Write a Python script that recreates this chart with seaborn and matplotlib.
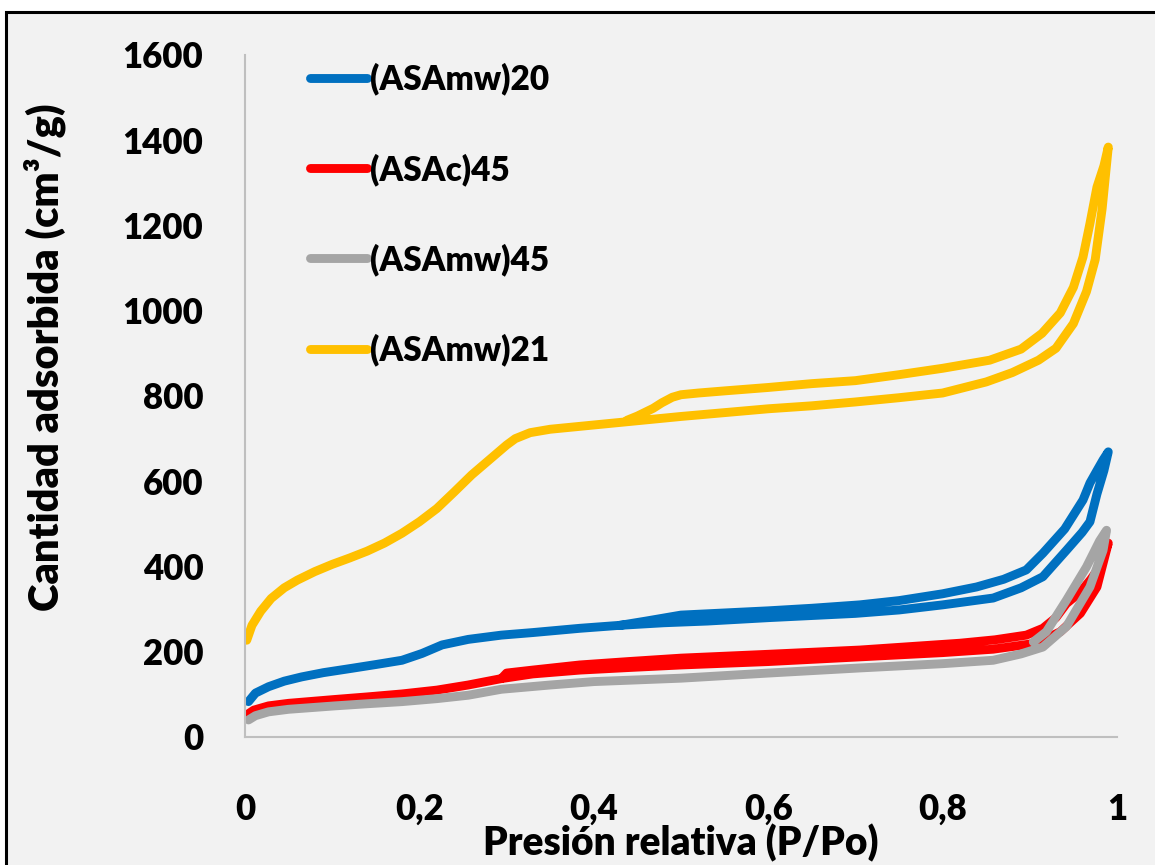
import numpy as np
import pandas as pd
import matplotlib
matplotlib.use("Agg")
import matplotlib.pyplot as plt
import seaborn as sns
from matplotlib.patches import Rectangle

# N2 adsorption-desorption isotherms (relative pressure vs adsorbed volume)
series_names = ["(ASAmw)20", "(ASAc)45", "(ASAmw)45", "(ASAmw)21"]
series_colors = ["#0070C0", "#FF0000", "#A5A5A5", "#FFC000"]

# (ASAmw)20
p_ads_20 = [0.004, 0.012, 0.027, 0.045, 0.065, 0.09, 0.122, 0.15, 0.18, 0.203, 0.226, 0.256,
            0.294, 0.33, 0.384, 0.43, 0.48, 0.53, 0.60, 0.65, 0.70, 0.75, 0.80, 0.858, 0.89,
            0.915, 0.942, 0.96, 0.969, 0.977, 0.985, 0.99]
v_ads_20 = [83, 103, 118, 131, 141, 151, 161, 170, 180, 196, 216, 229,
            239, 245, 255, 262, 268, 272, 280, 285, 290, 298, 310, 326, 350,
            376, 438, 480, 505, 570, 625, 669]
p_des_20 = [0.99, 0.984, 0.977, 0.969, 0.961, 0.94, 0.915, 0.896, 0.87, 0.839, 0.80, 0.75,
            0.705, 0.65, 0.60, 0.55, 0.50, 0.46, 0.43]
v_des_20 = [669, 650, 625, 596, 556, 488, 431, 392, 370, 352, 336, 320,
            310, 302, 296, 291, 286, 272, 262]

# (ASAc)45
p_ads_c45 = [0.002, 0.01, 0.027, 0.05, 0.103, 0.14, 0.18, 0.22, 0.256, 0.294, 0.33, 0.384,
             0.44, 0.50, 0.60, 0.705, 0.80, 0.858, 0.90, 0.915, 0.935, 0.958, 0.977, 0.99]
v_ads_c45 = [52, 63, 73, 79, 88, 94, 101, 110, 122, 137, 148, 157,
             163, 169, 177, 188, 198, 206, 218, 227, 247, 290, 352, 455]
p_des_c45 = [0.99, 0.98, 0.97, 0.958, 0.942, 0.93, 0.915, 0.896, 0.86, 0.82, 0.705, 0.60,
             0.50, 0.44, 0.384, 0.33, 0.30, 0.294]
v_des_c45 = [455, 399, 370, 340, 313, 280, 255, 239, 228, 220, 204, 194,
             185, 177, 169, 157, 150, 137]

# (ASAmw)45
p_ads_45 = [0.004, 0.012, 0.027, 0.05, 0.103, 0.14, 0.18, 0.22, 0.256, 0.294, 0.35, 0.40,
            0.50, 0.60, 0.705, 0.80, 0.858, 0.89, 0.915, 0.942, 0.969, 0.984, 0.988]
v_ads_45 = [40, 50, 59, 65, 73, 78, 83, 90, 98, 112, 122, 130,
            138, 150, 162, 172, 180, 195, 211, 259, 352, 438, 485]
p_des_45 = [0.988, 0.98, 0.965, 0.942, 0.919, 0.904]
v_des_45 = [485, 460, 399, 321, 247, 223]

# (ASAmw)21
p_ads_21 = [0.002, 0.008, 0.018, 0.03, 0.045, 0.06, 0.08, 0.10, 0.12, 0.14, 0.16, 0.18,
            0.20, 0.22, 0.24, 0.26, 0.28, 0.30, 0.31, 0.327, 0.35, 0.40, 0.45, 0.50, 0.55,
            0.60, 0.65, 0.70, 0.75, 0.80, 0.85, 0.88, 0.91, 0.93, 0.95, 0.965, 0.975, 0.983,
            0.99]
v_ads_21 = [227, 262, 295, 325, 350, 368, 388, 405, 420, 436, 455, 478,
            505, 536, 575, 615, 650, 685, 700, 714, 722, 732, 742, 752, 761,
            770, 777, 786, 796, 807, 833, 855, 884, 912, 970, 1045, 1120, 1240,
            1384]
p_des_21 = [0.99, 0.985, 0.977, 0.969, 0.961, 0.95, 0.935, 0.914, 0.89, 0.854, 0.80, 0.75,
            0.70, 0.65, 0.60, 0.55, 0.52, 0.50, 0.49, 0.478, 0.468, 0.45, 0.438]
v_des_21 = [1384, 1340, 1290, 1205, 1126, 1055, 995, 947, 910, 884, 865, 850,
            836, 829, 820, 812, 807, 803, 797, 784, 771, 753, 743]

x_ticks = [0, 0.2, 0.4, 0.6, 0.8, 1.0]
x_tick_labels = ["0", "0,2", "0,4", "0,6", "0,8", "1"]
y_ticks = [0, 200, 400, 600, 800, 1000, 1200, 1400, 1600]
y_tick_labels = ["0", "200", "400", "600", "800", "1000", "1200", "1400", "1600"]

branches = {
    "(ASAmw)20": (p_ads_20, v_ads_20, p_des_20, v_des_20),
    "(ASAc)45": (p_ads_c45, v_ads_c45, p_des_c45, v_des_c45),
    "(ASAmw)45": (p_ads_45, v_ads_45, p_des_45, v_des_45),
    "(ASAmw)21": (p_ads_21, v_ads_21, p_des_21, v_des_21),
}

rows = []
for name in series_names:
    pa, va, pd_, vd = branches[name]
    # adsorption followed by desorption as one continuous loop
    for p, v in zip(list(pa) + list(pd_), list(va) + list(vd)):
        rows.append({"P": p, "V": v, "serie": name})
df = pd.DataFrame(rows)

sns.set_theme(style="white")
plt.rcParams["font.family"] = ["Lato", "DejaVu Sans"]
plt.rcParams["text.color"] = "black"
plt.rcParams["axes.labelcolor"] = "black"
plt.rcParams["xtick.color"] = "black"
plt.rcParams["ytick.color"] = "black"

WEIGHT = "heavy"
W, H = 1155, 865
fig = plt.figure(figsize=(W / 100, H / 100), dpi=100, facecolor="white")

# panel background with a dark frame
fig.patches.append(Rectangle((6 / W, -0.05), 1.1, 1 - 12 / H + 0.05,
                             transform=fig.transFigure, facecolor="#F2F2F2",
                             edgecolor="black", linewidth=2.2, zorder=-10))

ax = fig.add_axes([245 / W, (H - 737) / H, 872 / W, 682 / H])
ax.set_facecolor("none")

sns.lineplot(data=df, x="P", y="V", hue="serie", hue_order=series_names,
             palette=dict(zip(series_names, series_colors)), sort=False,
             estimator=None, linewidth=6.4, solid_capstyle="round",
             solid_joinstyle="round", ax=ax)

ax.set_xlim(0, 1)
ax.set_ylim(0, 1600)
ax.set_xticks(x_ticks)
ax.set_xticklabels(x_tick_labels)
ax.set_yticks(y_ticks)
ax.set_yticklabels(y_tick_labels)
ax.tick_params(axis="both", length=0, labelsize=25, colors="black")
ax.tick_params(axis="y", pad=30)
ax.tick_params(axis="x", pad=40)
for lab in ax.get_xticklabels() + ax.get_yticklabels():
    lab.set_fontweight(WEIGHT)

for side in ["top", "right"]:
    ax.spines[side].set_visible(False)
for side in ["left", "bottom"]:
    ax.spines[side].set_color("#BFBFBF")
    ax.spines[side].set_linewidth(1.5)

ax.set_xlabel("Presión relativa (P/Po)", fontsize=28, fontweight=WEIGHT,
              va="center", color="black")
ax.set_ylabel("Cantidad adsorbida (cm³/g)", fontsize=30, fontweight=WEIGHT,
              va="center", color="black")
ax.xaxis.set_label_coords((681 - 245) / 872, (737 - 843) / 682)
ax.yaxis.set_label_coords((45 - 245) / 872, (737 - 357) / 682)

handles, labels = ax.get_legend_handles_labels()
leg = ax.legend(handles, labels, loc="upper left",
                bbox_to_anchor=(310 / W, 1 - 63 / H), bbox_transform=fig.transFigure,
                frameon=False, handlelength=1.7, handletextpad=0.1,
                labelspacing=1.72, borderpad=0, borderaxespad=0,
                prop={"weight": WEIGHT, "size": 24})
for t in leg.get_texts():
    t.set_color("black")

fig.savefig("out.png", dpi=100, facecolor=fig.get_facecolor())
